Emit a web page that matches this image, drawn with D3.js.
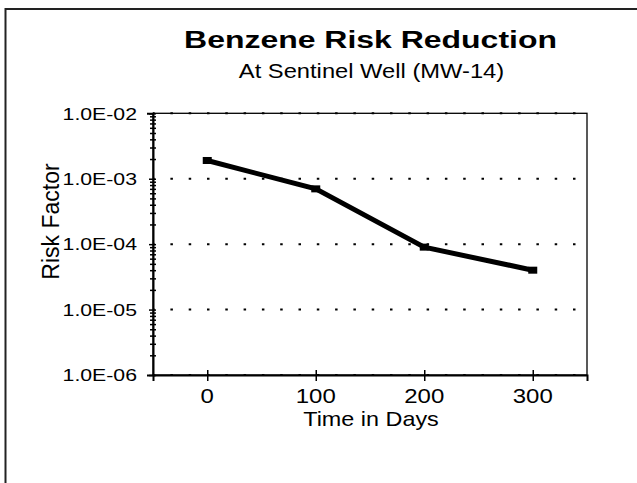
<!DOCTYPE html>
<html>
<head>
<meta charset="utf-8">
<script src="https://cdn.jsdelivr.net/npm/d3@7"></script>
<style>
  html, body { margin: 0; padding: 0; background: #fff; }
  svg { display: block; font-family: Arial, "Liberation Sans", Helvetica, sans-serif; }
</style>
</head>
<body>
<svg id="chart" width="637" height="483"></svg>
<script>
// ---- data ----
const days = [0, 100, 200, 300];
const riskFactor = [1.9e-3, 7.0e-4, 9.0e-5, 4.0e-5];
const xTickValues = [0, 100, 200, 300];
const yTickValues = [1e-6, 1e-5, 1e-4, 1e-3, 1e-2];
const yTickLabels = ["1.0E-06", "1.0E-05", "1.0E-04", "1.0E-03", "1.0E-02"];
const titleText = "Benzene Risk Reduction";
const subtitleText = "At Sentinel Well (MW-14)";
const xTitle = "Time in Days";
const yTitle = "Risk Factor";

// ---- layout ----
const svg = d3.select("#chart");
const L = 153, R = 587, T = 113.3, B = 375;

svg.append("rect").attr("width", 637).attr("height", 483).attr("fill", "#fff");
// outer frame (continues past right/bottom edges)
svg.append("rect").attr("x", 5.5).attr("y", 9).attr("width", 700).attr("height", 600)
  .attr("fill", "none").attr("stroke", "#222").attr("stroke-width", 2);

const x = d3.scaleLinear().domain([-50, 350]).range([L, R]);
const y = d3.scaleLog().domain([1e-6, 1e-2]).range([B, T]);

// plot frame
svg.append("rect").attr("x", L).attr("y", T).attr("width", R - L).attr("height", B - T)
  .attr("fill", "none").attr("stroke", "#000").attr("stroke-width", 1.3);

// dotted gridlines at decades
svg.append("g").selectAll("line").data(yTickValues).join("line")
  .attr("x1", L).attr("x2", R)
  .attr("y1", d => y(d)).attr("y2", d => y(d))
  .attr("stroke", "#000").attr("stroke-width", 2)
  .attr("stroke-dasharray", "2.5,15.8").attr("stroke-dashoffset", -17.4);

// y axis
const yAxis = d3.axisLeft(y).tickValues(y.ticks()).tickSize(6).tickFormat(() => "");
const gy = svg.append("g").attr("transform", `translate(${L},0)`).call(yAxis);
gy.select(".domain").attr("stroke-width", 2);
gy.selectAll(".tick line").attr("x1", -3).attr("x2", 3).attr("stroke-width", 1.5);
gy.selectAll(".tick").filter(d => yTickValues.some(v => Math.abs(Math.log10(v) - Math.log10(d)) < 1e-6))
  .select("line").attr("x1", -4).attr("x2", 3);

// y labels
svg.append("g").selectAll("text").data(yTickValues).join("text")
  .attr("transform", d => `translate(${L - 16},${y(d) + 6.3}) scale(1.25,1)`)
  .attr("text-anchor", "end").attr("font-size", 17).attr("fill", "#000")
  .text((d, i) => yTickLabels[i]);

// x axis
const xAxis = d3.axisBottom(x).tickValues(xTickValues).tickSize(6).tickFormat(() => "");
const gx = svg.append("g").attr("transform", `translate(0,${B})`).call(xAxis);
gx.select(".domain").attr("stroke-width", 2);
gx.selectAll(".tick line").attr("y1", -5).attr("y2", 6).attr("stroke-width", 1.5);

svg.append("g").selectAll("text").data(xTickValues).join("text")
  .attr("transform", d => `translate(${x(d)},${403}) scale(1.17,1)`)
  .attr("text-anchor", "middle").attr("font-size", 20.5).attr("fill", "#000")
  .text(d => d);

// line + markers
const pts = days.map((d, i) => [d, riskFactor[i]]);
svg.append("path").datum(pts)
  .attr("d", d3.line().x(d => x(d[0])).y(d => y(d[1])))
  .attr("fill", "none").attr("stroke", "#000").attr("stroke-width", 5).attr("stroke-linejoin", "miter");
svg.append("g").selectAll("rect").data(pts).join("rect")
  .attr("x", d => x(d[0]) - 4.5).attr("y", d => y(d[1]) - 3.5)
  .attr("width", 9).attr("height", 7).attr("fill", "#000");

// titles
svg.append("text").attr("transform", `translate(370.5,48.3) scale(1.36,1)`)
  .attr("text-anchor", "middle").attr("font-size", 23.5).attr("font-weight", "bold").text(titleText);
svg.append("text").attr("transform", `translate(371.5,77.5) scale(1.13,1)`)
  .attr("text-anchor", "middle").attr("font-size", 21).text(subtitleText);
svg.append("text").attr("transform", `translate(371,426) scale(1.17,1)`)
  .attr("text-anchor", "middle").attr("font-size", 20).text(xTitle);
svg.append("text").attr("transform", `translate(58.5,221.5) rotate(-90)`)
  .attr("text-anchor", "middle").attr("font-size", 23).text(yTitle);
</script>
</body>
</html>
